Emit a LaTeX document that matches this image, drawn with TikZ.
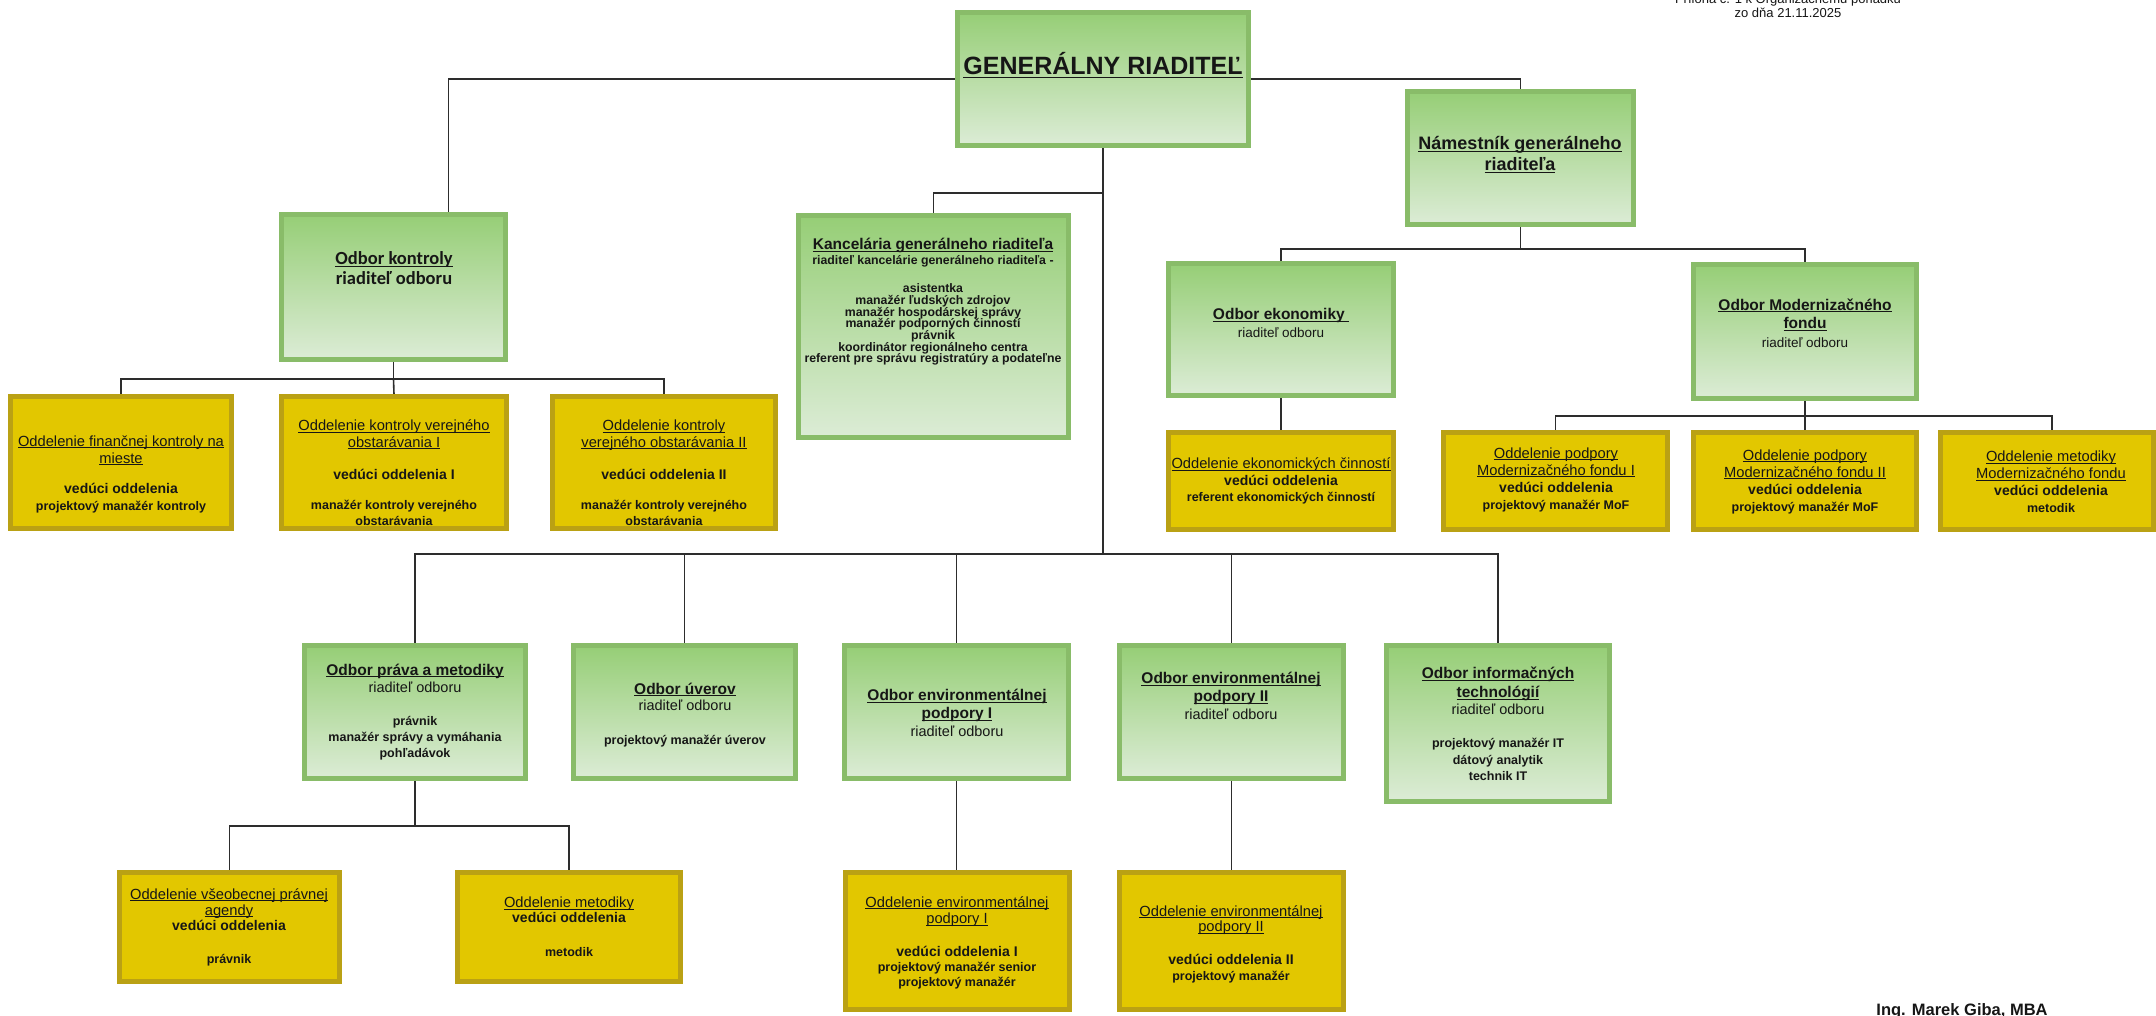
\documentclass[tikz,border=0pt]{standalone}
\usepackage{fontspec}
\setmainfont{Liberation Sans}
\newfontfamily\calfont{Carlito}
\usetikzlibrary{calc}
\definecolor{gtop}{RGB}{150,206,118}
\definecolor{gbot}{RGB}{220,236,214}
\definecolor{gbrd}{RGB}{137,188,105}
\definecolor{yfill}{RGB}{226,199,0}
\definecolor{ybrd}{RGB}{186,161,20}
\definecolor{lncol}{RGB}{45,45,45}
\definecolor{txtc}{RGB}{22,22,22}
\newcommand\fsz[1]{\fontsize{#1}{#1}\selectfont}
\newcommand\fsk[2]{\fontsize{#1}{#2}\selectfont\lineskiplimit=-50pt\relax}
\newcommand\ulx[1]{\leavevmode\setbox0\hbox{#1}\rlap{\copy0}\rule[-0.13em]{\wd0}{0.065em}}
\newcommand\mkbox[6]{\node[#6, minimum width={#4-#2-5}, minimum height={#5-#3-5}] (#1) at ({(#2+#4)/2},{(#3+#5)/2}) {};}
\newcommand\Ttl[1]{{\fsz{14.7}\ulx{#1}}}
\newcommand\Ved[1]{{\fsz{14}\bfseries #1}}
\newcommand\Sm[1]{{\fsz{12.5}\bfseries #1}}
\newcommand\Gt[1]{{\fsz{15.5}\bfseries\ulx{#1}}}
\newcommand\Rd[1]{{\fsz{#1}riaditeľ odboru}}
\pgfdeclarelayer{bg}
\pgfsetlayers{bg,main}
\tikzset{
  gbox/.style={draw=gbrd, line width=5pt, top color=gtop, bottom color=gbot, inner sep=0pt},
  ybox/.style={draw=ybrd, line width=4.5pt, fill=yfill, inner sep=0pt},
  conn/.style={draw=lncol, line width=1.6pt},
  txt/.style={align=center, inner sep=0pt, text=txtc}
}
\begin{document}
\begin{tikzpicture}[x=1pt,y=-1pt]
\begin{pgfonlayer}{bg}
\fill[white] (0,0) rectangle (2156,1016);
\end{pgfonlayer}
\useasboundingbox (0,0) rectangle (2156,1016);
\clip (0,0) rectangle (2156,1016);
% boxes
\mkbox{gr}{955}{10}{1251}{148}{gbox}
\mkbox{nam}{1405}{89}{1636}{227}{gbox}
\mkbox{ok}{279}{212}{508}{362}{gbox}
\mkbox{kan}{796}{213}{1071}{440}{gbox}
\mkbox{oek}{1166}{261}{1396}{398}{gbox}
\mkbox{omf}{1691}{262}{1919}{401}{gbox}
\mkbox{yek}{1166}{430}{1396}{532}{ybox}
\mkbox{ymfa}{1441}{430}{1670}{532}{ybox}
\mkbox{ymfb}{1691}{430}{1919}{532}{ybox}
\mkbox{ymfm}{1938}{430}{2156}{532}{ybox}
\mkbox{yfin}{8}{394}{234}{531}{ybox}
\mkbox{yvoa}{279}{394}{509}{531}{ybox}
\mkbox{yvob}{550}{394}{778}{531}{ybox}
\mkbox{opm}{302}{643}{528}{781}{gbox}
\mkbox{ouv}{571}{643}{798}{781}{gbox}
\mkbox{oea}{842}{643}{1071}{781}{gbox}
\mkbox{oeb}{1117}{643}{1346}{781}{gbox}
\mkbox{oit}{1384}{643}{1612}{804}{gbox}
\mkbox{yvs}{117}{870}{342}{984}{ybox}
\mkbox{ymet}{455}{870}{683}{984}{ybox}
\mkbox{yea}{843}{870}{1072}{1012}{ybox}
\mkbox{yeb}{1117}{870}{1346}{1012}{ybox}
% junctions
\coordinate (j1) at (1103,193);
\coordinate (j2) at (1103,554);
\coordinate (j3) at (1520.5,249);
\coordinate (j4) at (1805,416);
\coordinate (j5) at (393.5,379);
\coordinate (j6) at (415,826);
% connectors
\begin{pgfonlayer}{bg}
\draw[conn] (gr.west) -| ([xshift=55pt]ok.north);
\draw[conn] (gr.east) -| (nam.north);
\draw[conn] (gr.south) -- (j2);
\draw[conn] (j1) -| (kan.north);
\draw[conn] (j2) -| (opm.north);
\draw[conn] (j2) -| (ouv.north);
\draw[conn] (j2) -| (oea.north);
\draw[conn] (j2) -| (oeb.north);
\draw[conn] (j2) -| (oit.north);
\draw[conn] (nam.south) -- (j3);
\draw[conn] (j3) -| (oek.north);
\draw[conn] (j3) -| (omf.north);
\draw[conn] (oek.south) -- (yek.north);
\draw[conn] (omf.south) -- (j4);
\draw[conn] (j4) -| (ymfa.north);
\draw[conn] (j4) -- (ymfb.north);
\draw[conn] (j4) -| ([xshift=5pt]ymfm.north);
\draw[conn] (ok.south) -- (j5);
\draw[conn] (j5) -| (yfin.north);
\draw[conn] (j5) -- (yvoa.north);
\draw[conn] (j5) -| (yvob.north);
\draw[conn] (opm.south) -- (j6);
\draw[conn] (j6) -| (yvs.north);
\draw[conn] (j6) -| (ymet.north);
\draw[conn] (oea.south) -- (oea.south |- yea.north);
\draw[conn] (oeb.south) -- (yeb.north);
\end{pgfonlayer}
% texts
\node[txt, anchor=base, font=\fsz{25}\bfseries] (gr-t) at (1103,75) {\ulx{GENERÁLNY RIADITEĽ}};
\node[txt, font={\fsk{18}{21}\bfseries}] (nam-t) at (1520,155) {\ulx{Námestník generálneho}\\\ulx{riaditeľa}};
\node[txt, font={\fsk{18.5}{20}\calfont\bfseries}] (ok-t) at (394,268) {\ulx{Odbor kontroly}\\riaditeľ odboru};
\node[txt, font={\fsk{12.3}{11.7}\bfseries}] (kan-t) at (933,302) {{\fsz{15.5}\ulx{Kancelária generálneho riaditeľa}}\\[3.3pt]
riaditeľ kancelárie generálneho riaditeľa -\\[16.3pt]
asistentka\\manažér ľudských zdrojov\\manažér hospodárskej správy\\manažér podporných činností\\právnik\\koordinátor regionálneho centra\\referent pre správu registratúry a podateľne};
\node[txt, font={\fsk{12}{18}}] (oek-t) at (1281,323) {\Gt{Odbor ekonomiky\ }\\\Rd{13.5}};
\node[txt, font={\fsk{12}{18.5}}] (omf-t) at (1805,323) {\Gt{Odbor Modernizačného}\\\Gt{fondu}\\\Rd{13.5}};
\node[txt, font={\fsk{12}{16.5}}] (yek-t) at (1281,481) {\Ttl{Oddelenie ekonomických činností}\\\Ved{vedúci oddelenia}\\\Sm{referent ekonomických činností}};
\node[txt, font={\fsk{12}{17}}] (ymfa-t) at (1556,480) {\Ttl{Oddelenie podpory}\\\Ttl{Modernizačného fondu I}\\\Ved{vedúci oddelenia}\\\Sm{projektový manažér MoF}};
\node[txt, font={\fsk{12}{17}}] (ymfb-t) at (1805,482) {\Ttl{Oddelenie podpory}\\\Ttl{Modernizačného fondu II}\\\Ved{vedúci oddelenia}\\\Sm{projektový manažér MoF}};
\node[txt, font={\fsk{12}{17}}] (ymfm-t) at (2051,482) {\Ttl{Oddelenie metodiky}\\\Ttl{Modernizačného fondu}\\\Ved{vedúci oddelenia}\\\Sm{metodik}};
\node[txt, font={\fsk{12}{17}}] (yfin-t) at (121,474) {\Ttl{Oddelenie finančnej kontroly na}\\\Ttl{mieste}\\[13pt]\Ved{vedúci oddelenia}\\\Sm{projektový manažér kontroly}};
\node[txt, font={\fsk{12}{16.5}}] (yvoa-t) at (394,473) {\Ttl{Oddelenie kontroly verejného}\\\Ttl{obstarávania I}\\[15.5pt]\Ved{vedúci oddelenia I}\\[13.5pt]\Sm{manažér kontroly verejného}\\\Sm{obstarávania}};
\node[txt, font={\fsk{12}{16.5}}] (yvob-t) at (664,473) {\Ttl{Oddelenie kontroly}\\\Ttl{verejného obstarávania II}\\[15.5pt]\Ved{vedúci oddelenia II}\\[13.5pt]\Sm{manažér kontroly verejného}\\\Sm{obstarávania}};
\node[txt, font={\fsk{12}{16}}] (opm-t) at (415,712) {\Gt{Odbor práva a metodiky}\\[1pt]\Rd{14.5}\\[17pt]\Sm{právnik}\\\Sm{manažér správy a vymáhania}\\\Sm{pohľadávok}};
\node[txt, font={\fsk{12}{16}}] (ouv-t) at (685,715) {\Gt{Odbor úverov}\\\Rd{14.5}\\[18pt]\Sm{projektový manažér úverov}};
\node[txt, font={\fsk{12}{18}}] (oea-t) at (957,713) {\Gt{Odbor environmentálnej}\\\Gt{podpory I}\\\Rd{14.5}};
\node[txt, font={\fsk{12}{18}}] (oeb-t) at (1231,696) {\Gt{Odbor environmentálnej}\\\Gt{podpory II}\\\Rd{14.5}};
\node[txt, font={\fsk{12}{17}}] (oit-t) at (1498,724) {\Gt{Odbor informačných}\\[2pt]\Gt{technológií}\\\Rd{14.5}\\[16pt]\Sm{projektový manažér IT}\\\Sm{dátový analytik}\\[-1pt]\Sm{technik IT}};
\node[txt, font={\fsk{12}{16}}] (yvs-t) at (229,927) {\Ttl{Oddelenie všeobecnej právnej}\\\Ttl{agendy}\\[-1pt]\Ved{vedúci oddelenia}\\[17pt]\Sm{právnik}};
\node[txt, font={\fsk{12}{15}}] (ymet-t) at (569,927) {\Ttl{Oddelenie metodiky}\\\Ved{vedúci oddelenia}\\[19pt]\Sm{metodik}};
\node[txt, font={\fsk{12}{16.5}}] (yea-t) at (957,943) {\Ttl{Oddelenie environmentálnej}\\\Ttl{podpory I}\\[16pt]\Ved{vedúci oddelenia I}\\[-1pt]\Sm{projektový manažér senior}\\[-1.5pt]\Sm{projektový manažér}};
\node[txt, font={\fsk{12}{15.5}}] (yeb-t) at (1231,944) {\Ttl{Oddelenie environmentálnej}\\\Ttl{podpory II}\\[17.5pt]\Ved{vedúci oddelenia II}\\\Sm{projektový manažér}};
% header and signature
\node[txt, anchor=base, font=\fsz{13}] (hdra) at (1788,4) {Príloha č. 1 k Organizačnému poriadku};
\node[txt, anchor=base, font=\fsz{13}] (hdrb) at (1788,17.5) {zo dňa 21.11.2025};
\node[txt, anchor=base, font=\fsz{16.5}\bfseries] (sig) at (1962,1015.5) {Ing. Marek Giba, MBA};
\end{tikzpicture}
\end{document}
